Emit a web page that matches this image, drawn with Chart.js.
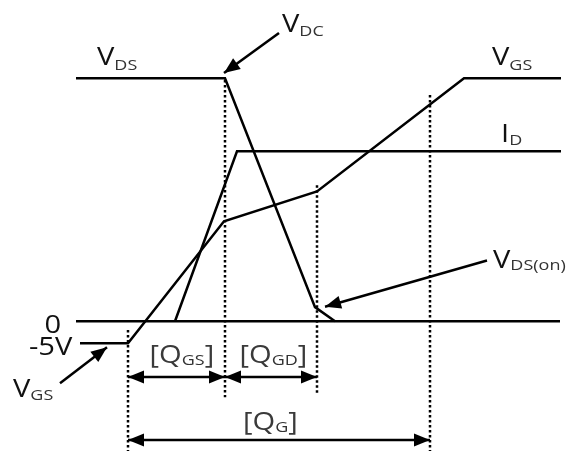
<!DOCTYPE html>
<html lang="en">
<head>
  <meta charset="UTF-8" />
  <title>Gate charge waveforms</title>
  <script src="https://cdn.jsdelivr.net/npm/chart.js"></script>
  <style>
    body { margin: 0; background: #fff; }
    #wrap { width: 576px; height: 451px; position: relative; }
  </style>
</head>
<body>
<div id="wrap"><canvas id="chart"></canvas></div>
<script>
// x = gate charge (arbitrary units), y = level (V)
const xRange = [-12.8, 44.8];
const yRange = [-29.5, 73.0];

const vdsQ = [-5.2, 9.7, 18.7, 20.7];
const vdsV = [55.2, 55.2, 3.2, 0];
const vgsQ = [-4.8, 0, 9.6, 18.9, 33.6, 43.3];
const vgsV = [-5, -5, 22.7, 29.5, 55.2, 55.2];
const idQ = [4.7, 10.9, 43.3];
const idV = [0, 38.6, 38.6];
const zeroQ = [-5.2, 43.2];

// dotted markers: Q=0, end of QGS, end of QGD, end of QG
const markQ = [0, 9.7, 18.9, 30.2];
const markTop = [-2.0, 54.8, 30.9, 51.4];
const markBottom = [-29.5, -17.3, -16.4, -29.5];

const spanLevel = [-12.7, -27.0];   // QGS/QGD row, QG row

// pointer arrows [fromQ, fromV, toQ, toV]
const vdcPointer = [15.1, 65.5, 9.6, 56.4];
const vgsPointer = [-6.8, -14.1, -2.1, -5.9];
const vdsOnPointer = [35.9, 13.8, 19.7, 3.3];

const pts = (xs, ys) => xs.map((x, i) => ({ x: x, y: ys[i] }));

const solid = (data, extra) => Object.assign({
  data: data, showLine: true, borderColor: '#000', borderWidth: 2.5,
  pointRadius: 0, tension: 0, fill: false
}, extra || {});

const datasets = [
  solid(pts(zeroQ, [0, 0])),
  solid(pts(vdsQ, vdsV)),
  solid(pts(vgsQ, vgsV)),
  solid(pts(idQ, idV)),
];

markQ.forEach((q, i) => {
  datasets.push(solid(pts([q, q], [markTop[i], markBottom[i]]), { borderDash: [2.5, 2.5], borderWidth: 2.5 }));
});

datasets.push(solid(pts([markQ[0], markQ[1]], [spanLevel[0], spanLevel[0]]), { arrows: ['start', 'end'] }));
datasets.push(solid(pts([markQ[1], markQ[2]], [spanLevel[0], spanLevel[0]]), { arrows: ['start', 'end'] }));
datasets.push(solid(pts([markQ[0], markQ[3]], [spanLevel[1], spanLevel[1]]), { arrows: ['start', 'end'] }));

[vdcPointer, vgsPointer, vdsOnPointer].forEach(p => {
  datasets.push(solid(pts([p[0], p[2]], [p[1], p[3]]), { arrows: ['end'] }));
});

// text labels: [q, v, main, sub, subDrop, bracket]
const labels = [
  [-3.1, 58.2, 'V', 'DS', 5, false],
  [15.4, 65.7, 'V', 'DC', 3.5, false],
  [36.4, 58.2, 'V', 'GS', 5, false],
  [37.3, 40.7, 'I', 'D', 3, false],
  [36.5, 12.0, 'V', 'DS(on)', 2, false],
  [-11.5, -17.2, 'V', 'GS', 3.5, false],
  [2.15, -9.6, 'Q', 'GS', 2, true],
  [11.15, -9.6, 'Q', 'GD', 2, true],
  [11.5, -24.8, 'Q', 'G', 2, true],
  [-8.35, -2.7, '0', '', 0, false],
  [-9.9, -7.7, '-5V', '', 0, false],
];

const arrowPlugin = {
  id: 'arrows',
  afterDatasetsDraw(chart) {
    const ctx = chart.ctx;
    chart.data.datasets.forEach((ds, i) => {
      if (!ds.arrows) return;
      const el = chart.getDatasetMeta(i).data;
      ds.arrows.forEach(end => {
        const tip = end === 'end' ? el[el.length - 1] : el[0];
        const from = end === 'end' ? el[el.length - 2] : el[1];
        const a = Math.atan2(tip.y - from.y, tip.x - from.x);
        const len = 16, hw = 6.5;
        ctx.save();
        ctx.fillStyle = '#000';
        ctx.beginPath();
        ctx.moveTo(tip.x, tip.y);
        ctx.lineTo(tip.x - len * Math.cos(a) + hw * Math.sin(a), tip.y - len * Math.sin(a) - hw * Math.cos(a));
        ctx.lineTo(tip.x - len * Math.cos(a) - hw * Math.sin(a), tip.y - len * Math.sin(a) + hw * Math.cos(a));
        ctx.closePath();
        ctx.fill();
        ctx.restore();
      });
    });
  }
};

const labelPlugin = {
  id: 'labels',
  afterDraw(chart) {
    const ctx = chart.ctx;
    const sx = chart.scales.x, sy = chart.scales.y;
    const big = '26px "Open Sans", sans-serif';
    const small = '15px "Open Sans", sans-serif';
    ctx.save();
    ctx.textBaseline = 'alphabetic';
    ctx.textAlign = 'left';
    labels.forEach(l => {
      let x = sx.getPixelForValue(l[0]);
      const y = sy.getPixelForValue(l[1]);
      const color = l[5] ? '#3a3a3a' : '#111';
      // the reference lettering is a little wider than Open Sans
      const put = (t, font, dy, c, stretch) => {
        ctx.font = font;
        ctx.fillStyle = c;
        ctx.save();
        ctx.translate(x, y + dy);
        ctx.scale(stretch, 1);
        ctx.fillText(t, 0, 0);
        ctx.restore();
        x += ctx.measureText(t).width * stretch;
      };
      if (l[5]) put('[', big, 0, color, 1.12);
      put(l[2], big, 0, color, 1.12);
      if (l[3]) put(l[3], small, l[4], '#333', 1.2);
      if (l[5]) put(']', big, 0, color, 1.12);
    });
    ctx.restore();
  }
};

new Chart(document.getElementById('chart'), {
  type: 'scatter',
  data: { datasets: datasets },
  options: {
    responsive: true,
    maintainAspectRatio: false,
    animation: false,
    layout: { padding: 0 },
    plugins: { legend: { display: false }, tooltip: { enabled: false } },
    scales: {
      x: { type: 'linear', display: false, min: xRange[0], max: xRange[1] },
      y: { type: 'linear', display: false, min: yRange[0], max: yRange[1] }
    }
  },
  plugins: [arrowPlugin, labelPlugin]
});
</script>
</body>
</html>
